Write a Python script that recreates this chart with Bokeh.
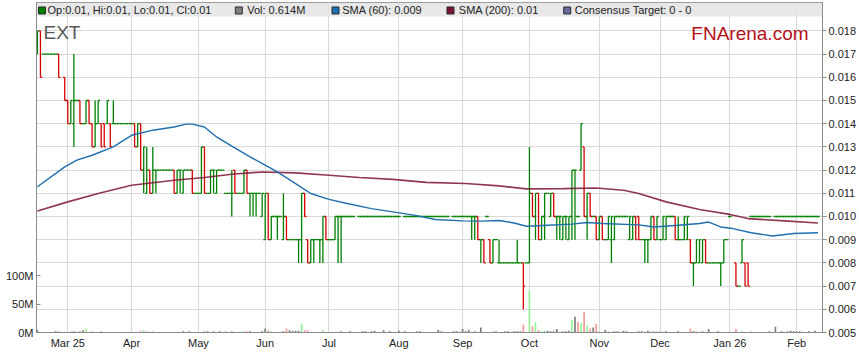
import numpy as np
from bokeh.plotting import figure
from bokeh.models import (Range1d, LinearAxis, FixedTicker, CustomJSTickFormatter,
                          BoxAnnotation, Label)
from bokeh.embed import file_html
from bokeh.resources import INLINE

N = None
FIRST_DAY = -10  # trading-day index of first bar (0 = Mon 3 Mar 2025); prices in 0.001 AUD

open_m = [
    17, 18, 17, 17, 17, 17, 17, 17, N, 16,
    15, 14, 14, 15, 15, 14, 14, 15, 14, 13,
    14, 14, 14, 14, 14, 14, 14, 14, 14, 14,
    14, 14, 14, 13, 14, 12, 11, 12, 11, 12,
    12, 12, 12, 12, 12, 12, 11, 12, 11, 12,
    12, 12, 11, 11, 11, 13, 11, 11, 12, 11,
    12, 12, 11, 11, 11, 12, 11, 11, 11, 12,
    11, 11, 11, 11, 10, 9, 11, 9, 10, 10,
    10, 9, 10, 9, 9, 9, 9, 9, 11, 9,
    8, 9, 9, 9, 9, 10, 9, 9, 9, 10,
    10, 10, 10, 10, 10, N, 10, 10, 10, 10,
    10, 10, 10, 10, 10, 10, 10, 10, 10, 10,
    N, 10, 10, 10, 10, 10, 10, 10, 10, 10,
    10, 10, 10, 10, 10, 10, N, 10, 10, 10,
    10, 10, 10, 10, 10, 10, 9, 9, 10, 9,
    8, 9, 8, 8, 8, 8, 8, 8, 8, 8,
    8, 8, 8, 11, 10, 11, 9, 10, 11, 10,
    11, 10, 10, 9, 10, 9, 10, 12, 10, 12,
    13, 10, 11, 10, 10, 9, 10, 9, 9, 9,
    9, 10, 10, 10, 10, 9, 9, 10, 10, 9,
    9, 9, 9, 10, 9, 9, 9, 9, 10, 10,
    10, 9, 9, 9, 9, 9, 8, 8, 8, 8,
    9, 8, 8, 8, 8, 8, 8, 9, 10, N,
    8, 7, 8, 8, 8, 10, 10, 10, 10, 10,
    10, 10, N, 10, 10, 10, 10, 10, 10, 10,
    10, 10, 10, 10, 10, 10, 10, 10,
]
high_m = [
    18, 18, 17, 17, 17, 17, 17, 17, N, 16,
    15, 15, 17, 15, 15, 14, 15, 15, 14, 15,
    15, 14, 14, 15, 14, 15, 14, 14, 14, 14,
    14, 14, 14, 14, 14, 13, 13, 12, 13, 12,
    12, 12, 12, 12, 12, 12, 12, 12, 12, 12,
    12, 12, 11, 11, 13, 13, 11, 12, 12, 12,
    12, 12, 11, 11, 12, 12, 11, 11, 12, 12,
    11, 11, 11, 11, 11, 11, 11, 10, 10, 10,
    10, 11, 10, 9, 9, 9, 9, 11, 11, 9,
    9, 9, 9, 9, 10, 10, 9, 9, 10, 10,
    10, 10, 10, 10, 10, N, 10, 10, 10, 10,
    10, 10, 10, 10, 10, 10, 10, 10, 10, 10,
    N, 10, 10, 10, 10, 10, 10, 10, 10, 10,
    10, 10, 10, 10, 10, 10, N, 10, 10, 10,
    10, 10, 10, 10, 10, 10, 9, 9, 10, 9,
    9, 9, 9, 8, 8, 8, 8, 8, 9, 8,
    8, 8, 13, 11, 11, 11, 10, 11, 11, 11,
    11, 10, 10, 10, 10, 10, 12, 12, 10, 14,
    13, 11, 11, 10, 10, 10, 10, 9, 10, 10,
    10, 10, 10, 10, 10, 10, 10, 10, 10, 9,
    9, 9, 10, 10, 10, 9, 10, 10, 10, 10,
    10, 10, 9, 10, 10, 9, 8, 9, 9, 9,
    9, 8, 8, 8, 8, 8, 9, 9, 10, N,
    8, 7, 9, 8, 8, 10, 10, 10, 10, 10,
    10, 10, N, 10, 10, 10, 10, 10, 10, 10,
    10, 10, 10, 10, 10, 10, 10, 10,
]
low_m = [
    17, 16, 17, 17, 17, 17, 17, 16, N, 15,
    14, 14, 13, 15, 14, 14, 14, 14, 13, 13,
    14, 13, 13, 14, 13, 14, 14, 14, 14, 14,
    14, 14, 13, 13, 12, 11, 11, 11, 11, 11,
    12, 12, 12, 12, 12, 11, 11, 11, 11, 12,
    12, 11, 11, 11, 11, 11, 11, 11, 11, 11,
    12, 12, 11, 11, 10, 11, 11, 11, 11, 11,
    10, 10, 10, 11, 10, 9, 9, 9, 10, 9,
    10, 9, 9, 9, 9, 9, 8, 8, 10, 8,
    8, 8, 9, 8, 8, 9, 9, 9, 9, 8,
    8, 10, 10, 10, 10, N, 10, 10, 10, 10,
    10, 10, 10, 10, 10, 10, 10, 10, 10, 10,
    N, 10, 10, 10, 10, 10, 10, 10, 10, 10,
    10, 10, 10, 10, 10, 10, N, 10, 10, 10,
    10, 10, 10, 9, 9, 9, 8, 8, 10, 8,
    8, 9, 8, 8, 8, 8, 8, 8, 8, 8,
    6, 8, 8, 10, 9, 9, 9, 9, 11, 10,
    10, 9, 9, 9, 9, 9, 9, 9, 10, 12,
    10, 9, 10, 10, 9, 9, 9, 9, 9, 8,
    9, 10, 10, 10, 10, 9, 9, 9, 9, 9,
    8, 8, 9, 9, 9, 9, 9, 9, 10, 10,
    9, 9, 9, 9, 9, 8, 7, 8, 8, 8,
    8, 8, 8, 8, 8, 7, 8, 9, 10, N,
    7, 7, 8, 7, 7, 10, 10, 10, 10, 10,
    10, 10, N, 10, 10, 10, 10, 10, 10, 10,
    10, 10, 10, 10, 10, 10, 10, 10,
]
close_m = [
    18, 16, 17, 17, 17, 17, 17, 16, N, 15,
    14, 15, 15, 15, 14, 14, 15, 14, 13, 14,
    15, 13, 13, 15, 13, 14, 14, 14, 14, 14,
    14, 14, 13, 14, 12, 13, 12, 11, 12, 12,
    12, 12, 12, 12, 12, 11, 12, 12, 12, 12,
    12, 11, 11, 11, 13, 11, 11, 12, 12, 12,
    12, 12, 11, 11, 11, 11, 11, 11, 12, 11,
    11, 11, 11, 11, 11, 11, 9, 10, 10, 10,
    10, 10, 9, 9, 9, 9, 9, 11, 10, 8,
    9, 9, 9, 9, 10, 9, 9, 9, 10, 10,
    10, 10, 10, 10, 10, N, 10, 10, 10, 10,
    10, 10, 10, 10, 10, 10, 10, 10, 10, 10,
    N, 10, 10, 10, 10, 10, 10, 10, 10, 10,
    10, 10, 10, 10, 10, 10, N, 10, 10, 10,
    10, 10, 10, 10, 10, 9, 9, 8, 10, 8,
    9, 9, 8, 8, 8, 8, 8, 8, 8, 8,
    7, 8, 11, 10, 11, 9, 10, 11, 11, 11,
    10, 10, 10, 10, 10, 10, 12, 12, 10, 14,
    10, 11, 10, 10, 9, 10, 9, 9, 10, 10,
    10, 10, 10, 10, 10, 10, 10, 9, 9, 9,
    9, 9, 10, 9, 10, 9, 10, 10, 10, 10,
    9, 9, 9, 10, 10, 8, 8, 9, 9, 9,
    8, 8, 8, 8, 8, 8, 9, 9, 10, N,
    7, 7, 9, 7, 7, 10, 10, 10, 10, 10,
    10, 10, N, 10, 10, 10, 10, 10, 10, 10,
    10, 10, 10, 10, 10, 10, 10, 10,
]

# volume (millions of shares) on the days that traded visibly
vol_day = [-10, -4, -3, 1, 2, 4, 5, 6, 8, 11, 24, 25, 26, 28, 38, 40, 45, 46, 48, 50,
           52, 54, 58, 59, 60, 64, 65, 66, 67, 71, 72, 73, 74, 75, 76, 77, 78, 79, 84, 86,
           90, 93, 97, 98, 100, 101, 104, 106, 109, 111, 115, 116, 122, 123, 127, 128, 130, 131, 132, 134,
           136, 140, 141, 144, 145, 147, 148, 149, 150, 152, 153, 154, 155, 156, 157, 158, 159, 160, 161, 163,
           164, 165, 166, 167, 168, 169, 170, 171, 172, 173, 174, 175, 177, 178, 180, 181, 183, 184, 188, 189,
           191, 192, 193, 194, 195, 197, 201, 205, 206, 207, 209, 211, 214, 220, 222, 225, 229, 231, 233, 235,
           237, 238, 239, 240, 241, 244, 246]
vol_m = [4, 2, 2, 2, 2, 2, 4, 7, 2, 2, 2, 4, 2, 2, 2, 2, 2, 2, 2, 2,
         2, 2, 2, 2, 2, 2, 7, 4, 2, 2, 7, 4, 3, 3, 3, 16, 4, 4, 4, 1,
         2, 2, 2, 2, 2, 3, 4, 2, 3, 2, 2, 2, 5, 2, 2, 2, 6, 2, 5, 2,
         9, 2, 2, 2, 2, 2, 2, 2, 14, 74, 11, 18, 4, 2, 3, 3, 2, 3, 6, 2,
         2, 3, 22, 28, 19, 17, 36, 12, 7, 9, 15, 2, 5, 2, 2, 2, 3, 2, 2, 2,
         3, 2, 2, 2, 2, 2, 2, 7, 2, 2, 2, 6, 2, 6, 2, 2, 1, 2, 10, 2,
         2, 3, 2, 2, 2, 2, 3]

sma60_day = [-10, -1, 3, 8, 15, 21, 28, 35, 39, 41, 45, 49, 54, 60, 65, 69, 75, 80, 86, 92,
             100, 107, 114, 121, 130, 136, 142, 147, 151, 158, 166, 171, 176, 188, 193, 201, 208, 211,
             215, 219, 225, 232, 239, 247]
sma60_m = [11.28, 12.14, 12.43, 12.64, 13.0, 13.5, 13.72, 13.86, 13.98, 13.98, 13.86, 13.43, 13.03,
           12.57, 12.21, 11.92, 11.42, 10.99, 10.74, 10.56, 10.34, 10.2, 10.06, 9.87, 9.81, 9.8,
           9.83, 9.72, 9.58, 9.62, 9.67, 9.74, 9.7, 9.64, 9.55, 9.62, 9.7, 9.76, 9.55, 9.48, 9.3,
           9.16, 9.27, 9.3]
sma200_day = [-10, 0, 10, 21, 35, 45, 54, 64, 75, 86, 96, 107, 118, 131, 142, 151, 163, 174, 183,
              188, 197, 208, 218, 224, 236, 247]
sma200_m = [10.24, 10.63, 10.99, 11.35, 11.56, 11.68, 11.82, 11.92, 11.88, 11.78, 11.68, 11.6,
            11.47, 11.42, 11.32, 11.19, 11.2, 11.23, 11.13, 10.99, 10.63, 10.3, 10.09, 9.91, 9.81, 9.72]

month_ticks = [0, 21, 43, 65, 86, 109, 130, 152, 175, 195, 218, 240]
month_labels = ["Mar 25", "Apr", "May", "Jun", "Jul", "Aug", "Sep", "Oct", "Nov", "Dec", "Jan 26", "Feb"]
price_ticks = [5, 6, 7, 8, 9, 10, 11, 12, 13, 14, 15, 16, 17, 18]
price_labels = ["0.005", "0.006", "0.007", "0.008", "0.009", "0.010", "0.011", "0.012",
                "0.013", "0.014", "0.015", "0.016", "0.017", "0.018"]
vol_ticks = [0, 50, 100]

legend_labels = ["Op:0.01, Hi:0.01, Lo:0.01, Cl:0.01", "Vol: 0.614M", "SMA (60): 0.009",
                 "SMA (200): 0.01", "Consensus Target: 0 - 0"]
legend_colors = ["#008000", "#808080", "#1f6fae", "#7d1434", "#6a6a9a"]
code_text = "EXT"
brand_text = "FNArena.com"

# ---------------- styling / layout constants ----------------
GREEN, RED = "#008000", "#d40000"
VGREEN, VRED, VGRAY = "#96f096", "#f49a9a", "#7c7c7c"
GRID = "#d9d9d9"
AXIS = "#8a8a8a"
FONT = "Liberation Sans"
TICK = 0.6  # open/close tick length in days
legend_sq_x = [-8.49, 56.31, 88.15, 126.01, 164.44]
legend_tx_x = [-6.68, 59.08, 90.36, 128.75, 166.94]
legend_y = 18.88


def arr(v):
    return np.array([np.nan if x is None else x for x in v], dtype=float)


o, h, lo, c = arr(open_m), arr(high_m), arr(low_m), arr(close_m)
days = np.arange(FIRST_DAY, FIRST_DAY + len(o))
ok = ~np.isnan(c)
d_v, o_v, h_v, l_v, c_v = days[ok], o[ok], h[ok], lo[ok], c[ok]
bar_col = [GREEN if cc >= oo else RED for oo, cc in zip(o_v, c_v)]

close_at = {}
prev_at = {}
last = None
for d, cc in zip(d_v, c_v):
    close_at[int(d)] = cc
    prev_at[int(d)] = last
    last = cc
vcols = []
for d in vol_day:
    cur, prev = close_at[d], prev_at[d]
    if prev is None or cur == prev:
        vcols.append(VGRAY)
    elif cur > prev:
        vcols.append(VGREEN)
    else:
        vcols.append(VRED)

p = figure(width=859, height=363, output_backend="svg", toolbar_location=None,
           x_range=Range1d(-10.3, 248.5), y_range=Range1d(5, 19.224),
           y_axis_location="right", min_border_top=2, min_border_left=36,
           min_border_right=37, min_border_bottom=31)
p.outline_line_color = AXIS
p.background_fill_color = "white"
p.border_fill_color = "white"

price_axis = p.yaxis[0]
price_axis.ticker = FixedTicker(ticks=price_ticks)
price_axis.major_label_overrides = dict(zip(price_ticks, price_labels))
price_axis.major_tick_out = 4
price_axis.major_tick_in = 0
price_axis.major_label_standoff = 2

p.extra_y_ranges = {"vol": Range1d(0, 583)}
vax = LinearAxis(y_range_name="vol", ticker=FixedTicker(ticks=vol_ticks),
                 formatter=CustomJSTickFormatter(code="return tick + 'M';"))
vax.major_tick_in = 4
vax.major_tick_out = 0
vax.major_label_standoff = 3
p.add_layout(vax, "left")

xax = p.xaxis[0]
xax.ticker = FixedTicker(ticks=month_ticks)
xax.major_label_overrides = dict(zip(month_ticks, month_labels))
xax.major_tick_in = 0
xax.major_tick_out = 0
xax.major_label_standoff = 4

for ax in (price_axis, vax, xax):
    ax.axis_line_color = AXIS
    ax.major_tick_line_color = AXIS
    ax.minor_tick_line_color = None
    ax.major_label_text_font = FONT
    ax.major_label_text_font_size = "11px"
    ax.major_label_text_color = "#222222"

p.xgrid.ticker = FixedTicker(ticks=month_ticks)
p.ygrid.ticker = FixedTicker(ticks=price_ticks)
for g in (p.xgrid, p.ygrid):
    g.grid_line_color = GRID
    g.grid_line_width = 1

band = BoxAnnotation(bottom=18.62, fill_color="#e4e4e4", fill_alpha=0.85,
                     line_alpha=0, level="underlay")
p.add_layout(band)

# volume
p.vbar(x=vol_day, top=vol_m, bottom=0, width=0.55, y_range_name="vol",
       fill_color=vcols, line_color=None)

# OHLC bars
lw = 1.3
p.segment(x0=d_v, y0=l_v, x1=d_v, y1=h_v, line_color=bar_col, line_width=lw)
p.segment(x0=d_v - TICK, y0=o_v, x1=d_v, y1=o_v, line_color=bar_col, line_width=lw)
p.segment(x0=d_v, y0=c_v, x1=d_v + TICK, y1=c_v, line_color=bar_col, line_width=lw)

# moving averages
p.line(sma200_day, sma200_m, line_color="#7d1434", line_width=1.6, line_alpha=0.85)
p.line(sma60_day, sma60_m, line_color="#1f6fae", line_width=1.4)

# legend strip
p.scatter(x=legend_sq_x, y=[legend_y] * len(legend_sq_x), marker="square", size=7,
          fill_color=legend_colors, line_color="#2a2a2a", line_width=1)
for tx, lab in zip(legend_tx_x, legend_labels):
    p.add_layout(Label(x=tx, y=legend_y, text=lab, text_font=FONT, text_font_size="11px",
                       text_color="#222222", text_baseline="middle", text_align="left"))

p.add_layout(Label(x=-8.0, y=17.93, text=code_text, text_font=FONT, text_font_size="19px",
                   text_color="#5a5a5a", text_baseline="middle", text_align="left"))
p.add_layout(Label(x=243.9, y=17.89, text=brand_text, text_font=FONT, text_font_size="19px",
                   text_color="#b5121b", text_baseline="middle", text_align="right"))

open("out.html", "w").write(file_html(p, INLINE))
